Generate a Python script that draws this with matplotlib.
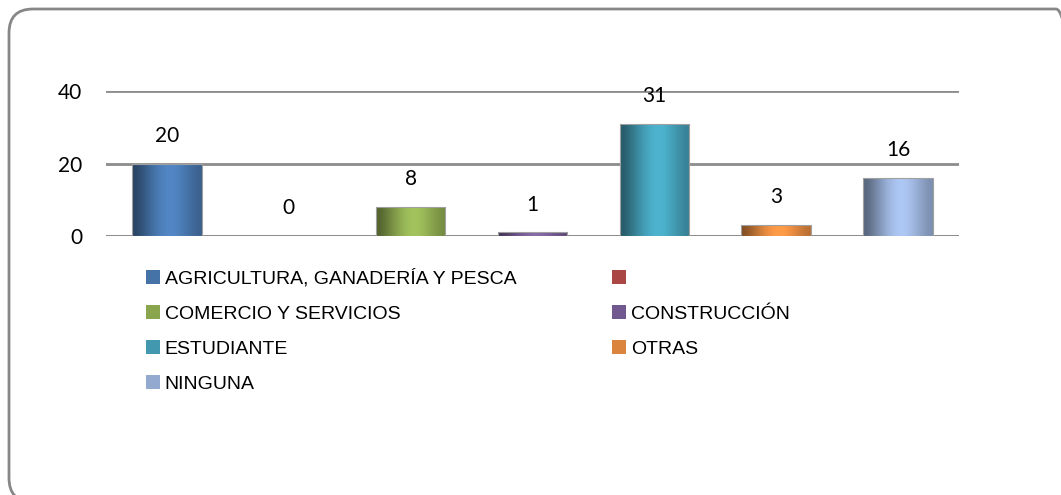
import numpy as np
import matplotlib
matplotlib.use("Agg")
import matplotlib.pyplot as plt
from matplotlib.patches import FancyBboxPatch, Patch
from matplotlib.colors import to_rgb
from matplotlib.transforms import Affine2D

categories = ["AGRICULTURA, GANADERÍA Y PESCA", "", "COMERCIO Y SERVICIOS",
              "CONSTRUCCIÓN", "ESTUDIANTE", "OTRAS", "NINGUNA"]
values = [20, 0, 8, 1, 31, 3, 16]
colors = ["#4572A7", "#AA4643", "#89A54E", "#71588F", "#4198AF", "#DB843D", "#93A9CF"]
yticks = [0, 20, 40]

NUM_FONT = ["Lato", "DejaVu Sans"]
LEG_FONT = ["Liberation Sans", "DejaVu Sans"]

W, H = 1061, 495
fig = plt.figure(figsize=(W / 100, H / 100), dpi=100)

# rounded frame in pixel coords (y up), cut off at right/bottom like the screenshot
px = Affine2D().scale(1 / W, 1 / H) + fig.transFigure
left, top, right, bottom = 9, 9, 1080, 502
frame = FancyBboxPatch((left, H - bottom), right - left, bottom - top,
                       boxstyle="round,pad=0,rounding_size=24",
                       transform=px, fill=False, edgecolor="#878787", lw=2)
fig.add_artist(frame)

ax = fig.add_axes([106 / W, 1 - 236 / H, (959 - 106) / W, (236 - 91) / H])
x = np.arange(len(values))
ax.set_xlim(-0.5, len(values) - 0.5)
ax.set_ylim(0, 40)

bars = ax.bar(x, values, width=0.57, color="none", edgecolor="none", zorder=3)

# cylinder-ish horizontal gradient like the Excel bars
prof = np.array([0.6, 0.75, 0.9, 1.05, 1.15, 1.2, 1.15, 1.05, 0.95, 0.85])
for b, c in zip(bars, colors):
    if b.get_height() <= 0:
        continue
    base = np.array(to_rgb(c))
    grad = np.clip(base[None, :] * prof[:, None], 0, 1)[None, :, :]
    im = ax.imshow(grad, extent=(b.get_x(), b.get_x() + b.get_width(), 0, b.get_height()),
                   aspect="auto", interpolation="bicubic", zorder=3)
    im.set_clip_path(b)
    ax.bar(b.get_x() + b.get_width() / 2, b.get_height(), width=b.get_width(),
           color="none", edgecolor="#a0a0a0", lw=0.8, zorder=4)

for xi, v in zip(x, values):
    ax.annotate(str(v), (xi, v), xytext=(0, 20), textcoords="offset points",
                ha="center", va="center", fontsize=15, family=NUM_FONT)

ax.set_yticks(yticks)
ax.set_yticklabels([str(t) for t in yticks], family=NUM_FONT, fontsize=15)
ax.tick_params(axis="y", length=0, pad=17)
ax.set_xticks([])
for s in ax.spines.values():
    s.set_visible(False)
ax.yaxis.grid(True, color="#8c8c8c", lw=2)
ax.set_axisbelow(True)
ax.axhline(0, color="#8c8c8c", lw=2, zorder=2)

# legend: matplotlib fills columns first, so reorder to read row-wise
handles = [Patch(facecolor=c, edgecolor="none") for c in colors]
order = [0, 2, 4, 6, 1, 3, 5]
fig.legend([handles[i] for i in order], [categories[i] for i in order],
           ncol=2, loc="upper left", bbox_to_anchor=(128 / W, 1 - 252 / H),
           frameon=False, prop={"family": LEG_FONT, "size": 14},
           handlelength=0.72, handleheight=0.72, handletextpad=0.26,
           labelspacing=0.88, columnspacing=4.95)

fig.savefig("out.png", dpi=100)
